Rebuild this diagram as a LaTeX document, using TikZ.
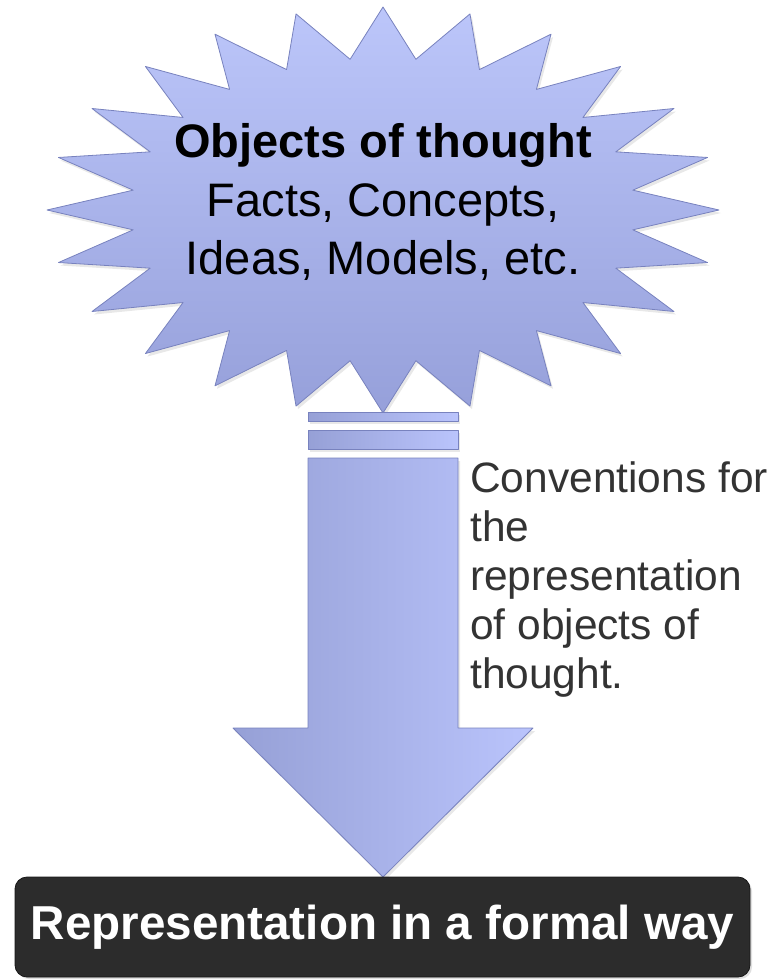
\documentclass[tikz,border=0pt]{standalone}
\usepackage{fontspec}
\setmainfont{Liberation Sans}
\usetikzlibrary{shadows}
\definecolor{starTop}{RGB}{188,198,250}
\definecolor{starBot}{RGB}{150,160,218}
\definecolor{starEdge}{RGB}{120,130,190}
\definecolor{arrL}{RGB}{150,160,214}
\definecolor{arrR}{RGB}{186,196,252}
\definecolor{boxFill}{RGB}{44,44,44}
\definecolor{boxEdge}{RGB}{22,22,22}
\definecolor{noteText}{RGB}{51,51,51}
\begin{document}
\begin{tikzpicture}[x=1pt,y=-1pt,
  starshape/.style={top color=starTop,bottom color=starBot,draw=starEdge,line width=0.8pt,line join=round,
    drop shadow={opacity=0.18,shadow xshift=2pt,shadow yshift=-3pt}},
  arrowpart/.style={left color=arrL,right color=arrR,draw=starEdge,line width=0.8pt,line join=round,
    drop shadow={opacity=0.18,shadow xshift=2pt,shadow yshift=-3pt}},
  startext/.style={align=center,inner sep=0pt,text=black,font=\fontsize{47}{58.5}\selectfont},
  notetext/.style={align=left,inner sep=0pt,text=noteText,font=\fontsize{42.5}{49}\selectfont},
  repbox/.style={rounded corners=12pt,fill=boxFill,draw=boxEdge,line width=0.8pt,
    minimum width=735pt,minimum height=100pt,inner sep=0pt,text=white,
    font=\fontsize{47.6}{57}\selectfont\bfseries,
    drop shadow={opacity=0.25,shadow xshift=2pt,shadow yshift=-2pt}}
]
\useasboundingbox (0,0) rectangle (784,980);
% starburst
\path[starshape] (383,7)
  \foreach \i in {0,...,23} {
    -- ({383+252*sin(\i*15+7.5)},{210-152*cos(\i*15+7.5)})
    -- ({383+336*sin(\i*15+15)},{210-203*cos(\i*15+15)})
  } -- cycle;
\node[startext] (objects) at (383,202) {\textbf{Objects of thought}\\Facts, Concepts,\\Ideas, Models, etc.};
% arrow
\path[arrowpart] (308,412) rectangle (458,421);
\path[arrowpart] (308,430) rectangle (458,449);
\path[arrowpart] (308,458) -- (458,458) -- (458,728) -- (533,728) -- (383,877) -- (233,728) -- (308,728) -- cycle;
% note
\node[notetext,anchor=north west] (conv) at (470,461) {Conventions for\\the\\representation\\of objects of\\thought.};
% bottom box
\node[repbox] (rep) at (382.5,927) {Representation in a formal way};
\end{tikzpicture}
\end{document}
